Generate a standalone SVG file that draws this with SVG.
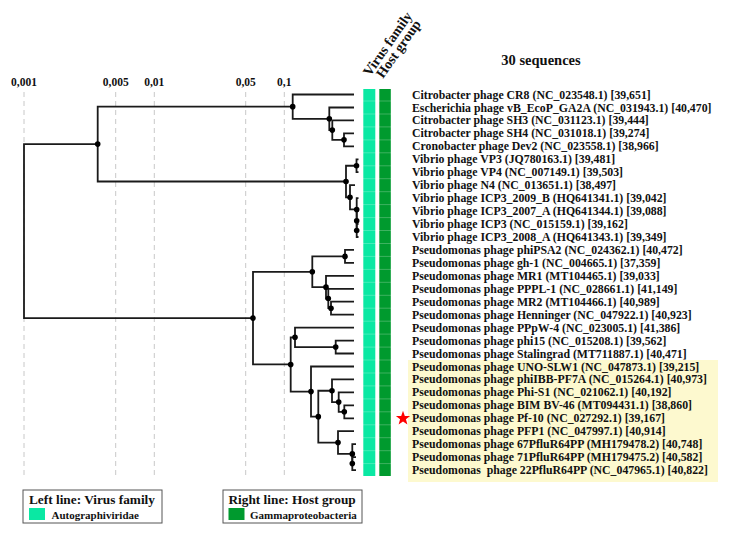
<svg xmlns="http://www.w3.org/2000/svg" width="734" height="541" viewBox="0 0 734 541">
<style>
text{font-family:"Liberation Serif","Times New Roman",serif;font-weight:bold;fill:#111}
.lbl{font-size:11.8px}
.ax{font-size:11.5px;text-anchor:middle}
.grid{stroke:#c8c8c8;stroke-width:1;stroke-dasharray:5 4;fill:none}
.br{stroke:#1a1a1a;stroke-width:1.8;fill:none}
.dot{fill:#000}
.vf{fill:#0ae8a3}
.hg{fill:#009a2e}
.sep{stroke:#ffffff;stroke-opacity:0.3;stroke-width:0.8}
.lg{fill:#fff;stroke:#555;stroke-width:1}
</style>
<rect width="734" height="541" fill="#fff"/>
<g id="axis">
<line class="grid" x1="24" y1="92" x2="24" y2="475"/>
<line class="grid" x1="115.7" y1="92" x2="115.7" y2="475"/>
<line class="grid" x1="154.3" y1="92" x2="154.3" y2="475"/>
<line class="grid" x1="245.7" y1="92" x2="245.7" y2="475"/>
<line class="grid" x1="284.3" y1="92" x2="284.3" y2="475"/>
<text class="ax" x="24" y="86">0,001</text>
<text class="ax" x="115.7" y="86">0,005</text>
<text class="ax" x="154.3" y="86">0,01</text>
<text class="ax" x="245.7" y="86">0,05</text>
<text class="ax" x="284.3" y="86">0,1</text>
</g>
<text x="541" y="65" style="font-size:14.5px;text-anchor:middle">30 sequences</text>
<text x="370" y="77" transform="rotate(-55 370 77)" style="font-size:14px">Virus family</text>
<text x="383" y="79" transform="rotate(-55 383 79)" style="font-size:14px">Host group</text>
<rect id="highlight" x="408" y="360" width="310" height="122" fill="#fdf9cf"/>
<g id="bars">
<rect class="vf" x="363.3" y="89" width="12" height="387"/>
<rect class="hg" x="379.3" y="89" width="11.5" height="387"/>
<g class="sep">
<line x1="363" y1="101" x2="391" y2="101"/><line x1="363" y1="114" x2="391" y2="114"/><line x1="363" y1="126.9" x2="391" y2="126.9"/><line x1="363" y1="139.9" x2="391" y2="139.9"/><line x1="363" y1="152.8" x2="391" y2="152.8"/><line x1="363" y1="165.8" x2="391" y2="165.8"/><line x1="363" y1="178.7" x2="391" y2="178.7"/><line x1="363" y1="191.7" x2="391" y2="191.7"/><line x1="363" y1="204.6" x2="391" y2="204.6"/><line x1="363" y1="217.6" x2="391" y2="217.6"/><line x1="363" y1="230.5" x2="391" y2="230.5"/><line x1="363" y1="243.5" x2="391" y2="243.5"/><line x1="363" y1="256.4" x2="391" y2="256.4"/><line x1="363" y1="269.4" x2="391" y2="269.4"/><line x1="363" y1="282.3" x2="391" y2="282.3"/><line x1="363" y1="295.3" x2="391" y2="295.3"/><line x1="363" y1="308.2" x2="391" y2="308.2"/><line x1="363" y1="321.2" x2="391" y2="321.2"/><line x1="363" y1="334.1" x2="391" y2="334.1"/><line x1="363" y1="347.1" x2="391" y2="347.1"/><line x1="363" y1="360" x2="391" y2="360"/><line x1="363" y1="373" x2="391" y2="373"/><line x1="363" y1="385.9" x2="391" y2="385.9"/><line x1="363" y1="398.9" x2="391" y2="398.9"/><line x1="363" y1="411.8" x2="391" y2="411.8"/><line x1="363" y1="424.8" x2="391" y2="424.8"/><line x1="363" y1="437.7" x2="391" y2="437.7"/><line x1="363" y1="450.7" x2="391" y2="450.7"/><line x1="363" y1="463.6" x2="391" y2="463.6"/>
</g>
</g>
<g id="connectors" class="br">
<path d="M354 94.5H292.7V118.8H329.3"/>
<path d="M354 107.5H329.3V130.1H332.3"/>
<path d="M354 120.4H332.3V139.85H344"/>
<path d="M354 133.4H344V146.3H354"/>
<path d="M292.7 106.65H97.7V181.5H346"/>
<path d="M356.5 165.75H346V197.3H350"/>
<path d="M358.5 159.3H356.5V172.2H358.5"/>
<path d="M355 185.2H350V209.45H356.7"/>
<path d="M358.5 198.1H356.7V220.8"/>
<path d="M358.5 211.1H356.7V230.5"/>
<path d="M358.5 224H356.7V237H358.5"/>
<path d="M97.7 144.1H24V318.1H253"/>
<path d="M312.3 271.8H253V364.45H290.7"/>
<path d="M345 256.4H312.3V287.15H326"/>
<path d="M354 249.9H345V262.9H354"/>
<path d="M354 275.8H326V298.5H328.3"/>
<path d="M354 288.8H328.3V308.2H331"/>
<path d="M354 301.7H331V314.7H354"/>
<path d="M295 337.3H290.7V391.6H311"/>
<path d="M354 327.6H295V347.05H335.7"/>
<path d="M354 340.6H335.7V353.5H354"/>
<path d="M354 366.5H311V416.65H318.3"/>
<path d="M332 390.75H318.3V442.55H338"/>
<path d="M354 379.4H332V402.1H338.7"/>
<path d="M354 392.4H338.7V411.8H344.3"/>
<path d="M354 405.3H344.3V418.3H354"/>
<path d="M354 431.2H338V453.9H352.3"/>
<path d="M356 444.2H352.3V463.6"/>
<path d="M356 457.1H352.3V470.1H356"/>
</g>
<g id="nodes" class="dot">
<circle cx="292.7" cy="106.65" r="2.8"/><circle cx="329.3" cy="118.8" r="2.8"/><circle cx="332.3" cy="130.1" r="2.8"/><circle cx="344" cy="139.85" r="2.8"/>
<circle cx="97.7" cy="144.1" r="2.8"/><circle cx="346" cy="181.5" r="2.8"/><circle cx="356.5" cy="165.75" r="2.8"/><circle cx="350" cy="197.3" r="2.8"/><circle cx="356.7" cy="209.45" r="2.8"/><circle cx="356.7" cy="220.8" r="2.8"/><circle cx="356.7" cy="230.5" r="2.8"/>
<circle cx="253" cy="318.1" r="2.8"/><circle cx="312.3" cy="271.8" r="2.8"/><circle cx="345" cy="256.4" r="2.8"/><circle cx="326" cy="287.15" r="2.8"/><circle cx="328.3" cy="298.5" r="2.8"/><circle cx="331" cy="308.2" r="2.8"/>
<circle cx="290.7" cy="364.45" r="2.8"/><circle cx="295" cy="337.3" r="2.8"/><circle cx="335.7" cy="347.05" r="2.8"/><circle cx="311" cy="391.6" r="2.8"/><circle cx="318.3" cy="416.65" r="2.8"/><circle cx="332" cy="390.75" r="2.8"/><circle cx="338.7" cy="402.1" r="2.8"/><circle cx="344.3" cy="411.8" r="2.8"/><circle cx="338" cy="442.55" r="2.8"/><circle cx="352.3" cy="453.9" r="2.8"/><circle cx="352.3" cy="463.6" r="2.8"/>
</g>
<g id="labels" class="lbl">
<text x="412" y="98.5">Citrobacter phage CR8 (NC_023548.1) [39,651]</text>
<text x="412" y="111.5">Escherichia phage vB_EcoP_GA2A (NC_031943.1) [40,470]</text>
<text x="412" y="124.4">Citrobacter phage SH3 (NC_031123.1) [39,444]</text>
<text x="412" y="137.4">Citrobacter phage SH4 (NC_031018.1) [39,274]</text>
<text x="412" y="150.3">Cronobacter phage Dev2 (NC_023558.1) [38,966]</text>
<text x="412" y="163.3">Vibrio phage VP3 (JQ780163.1) [39,481]</text>
<text x="412" y="176.2">Vibrio phage VP4 (NC_007149.1) [39,503]</text>
<text x="412" y="189.2">Vibrio phage N4 (NC_013651.1) [38,497]</text>
<text x="412" y="202.1">Vibrio phage ICP3_2009_B (HQ641341.1) [39,042]</text>
<text x="412" y="215.1">Vibrio phage ICP3_2007_A (HQ641344.1) [39,088]</text>
<text x="412" y="228">Vibrio phage ICP3 (NC_015159.1) [39,162]</text>
<text x="412" y="241">Vibrio phage ICP3_2008_A (HQ641343.1) [39,349]</text>
<text x="412" y="253.9">Pseudomonas phage phiPSA2 (NC_024362.1) [40,472]</text>
<text x="412" y="266.9">Pseudomonas phage gh-1 (NC_004665.1) [37,359]</text>
<text x="412" y="279.8">Pseudomonas phage MR1 (MT104465.1) [39,033]</text>
<text x="412" y="292.8">Pseudomonas phage PPPL-1 (NC_028661.1) [41,149]</text>
<text x="412" y="305.7">Pseudomonas phage MR2 (MT104466.1) [40,989]</text>
<text x="412" y="318.7">Pseudomonas phage Henninger (NC_047922.1) [40,923]</text>
<text x="412" y="331.6">Pseudomonas phage PPpW-4 (NC_023005.1) [41,386]</text>
<text x="412" y="344.6">Pseudomonas phage phi15 (NC_015208.1) [39,562]</text>
<text x="412" y="357.5">Pseudomonas phage Stalingrad (MT711887.1) [40,471]</text>
<text x="412" y="370.5">Pseudomonas phage UNO-SLW1 (NC_047873.1) [39,215]</text>
<text x="412" y="383.4">Pseudomonas phage phiIBB-PF7A (NC_015264.1) [40,973]</text>
<text x="412" y="396.4">Pseudomonas phage Phi-S1 (NC_021062.1) [40,192]</text>
<text x="412" y="409.3">Pseudomonas phage BIM BV-46 (MT094431.1) [38,860]</text>
<text x="412" y="422.3">Pseudomonas phage Pf-10 (NC_027292.1) [39,167]</text>
<text x="412" y="435.2">Pseudomonas phage PFP1 (NC_047997.1) [40,914]</text>
<text x="412" y="448.2">Pseudomonas phage 67PfluR64PP (MH179478.2) [40,748]</text>
<text x="412" y="461.1">Pseudomonas phage 71PfluR64PP (MH179475.2) [40,582]</text>
<text x="412" y="474.1" xml:space="preserve">Pseudomonas  phage 22PfluR64PP (NC_047965.1) [40,822]</text>
</g>
<polygon id="star" fill="#ff0000" points="403,410.8 404.8,415.9 410.1,416 405.9,419.3 407.4,424.4 403,421.4 398.6,424.4 400.1,419.3 395.9,416 401.2,415.9"/>
<g id="legend-family">
<rect class="lg" x="23" y="490" width="139" height="33"/>
<text x="29" y="504" style="font-size:13.3px">Left line: Virus family</text>
<rect class="vf" x="29" y="508" width="16" height="12"/>
<text x="51.5" y="518.5" style="font-size:11px">Autographiviridae</text>
</g>
<g id="legend-host">
<rect class="lg" x="223" y="490" width="139" height="33"/>
<text x="228.5" y="504" style="font-size:13.3px">Right line: Host group</text>
<rect class="hg" x="228.5" y="508" width="16" height="12"/>
<text x="250" y="518.5" style="font-size:11px">Gammaproteobacteria</text>
</g>
</svg>
